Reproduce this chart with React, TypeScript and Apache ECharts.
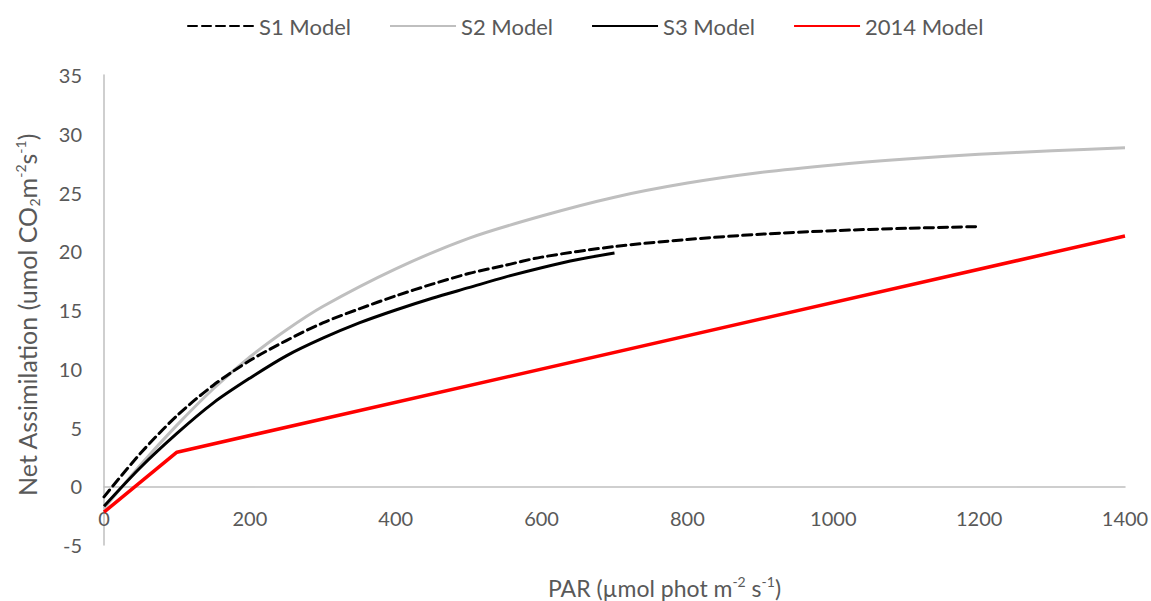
import React, { useEffect, useRef } from "react";
import * as echarts from "echarts";

const xTicks = [0, 200, 400, 600, 800, 1000, 1200, 1400];
const yTicks = [-5, 0, 5, 10, 15, 20, 25, 30, 35];

const seriesNames = ["S1 Model", "S2 Model", "S3 Model", "2014 Model"];

const s1X = [0, 50, 100, 150, 200, 250, 300, 350, 400, 450, 500, 550, 600, 700, 800, 900, 1000, 1100, 1200];
const s1Y = [-0.9, 2.8, 6.0, 8.6, 10.7, 12.4, 13.9, 15.1, 16.2, 17.2, 18.1, 18.8, 19.5, 20.4, 21.0, 21.45, 21.75, 21.95, 22.1];

const s2X = [0, 50, 100, 150, 200, 250, 300, 400, 500, 600, 700, 800, 900, 1000, 1100, 1200, 1300, 1400];
const s2Y = [-1.9, 1.8, 5.2, 8.3, 11.0, 13.3, 15.3, 18.5, 21.1, 23.0, 24.6, 25.8, 26.7, 27.35, 27.85, 28.25, 28.55, 28.8];

const s3X = [0, 50, 100, 150, 200, 250, 300, 350, 400, 450, 500, 550, 600, 650, 700];
const s3Y = [-1.7, 1.6, 4.5, 7.1, 9.2, 11.1, 12.6, 13.9, 15.0, 16.0, 16.9, 17.8, 18.6, 19.3, 19.85];

const m2014X = [0, 100, 1400];
const m2014Y = [-2.2, 2.9, 21.3];

const pairs = (xs: number[], ys: number[]) => xs.map((x, i) => [x, ys[i]]);

const FONT = "Lato, 'Open Sans', sans-serif";
const TXT = "#595959";
const AXIS = "#BFBFBF";

export default function App() {
  const ref = useRef<HTMLDivElement>(null);
  useEffect(() => {
    if (!ref.current) return;
    const chart = echarts.init(ref.current, undefined, { renderer: "svg" });
    const supStyle = { fontSize: 14, fontFamily: FONT, color: TXT, verticalAlign: "top", lineHeight: 20 };
    const subStyle = { fontSize: 14, fontFamily: FONT, color: TXT, verticalAlign: "bottom", lineHeight: 16 };
    chart.setOption({
      animation: false,
      backgroundColor: "#ffffff",
      textStyle: { fontFamily: FONT },
      legend: {
        top: 10,
        left: 182,
        itemWidth: 66,
        itemHeight: 14,
        itemGap: 38,
        data: seriesNames,
        itemStyle: { opacity: 0 },
        textStyle: { fontSize: 22, color: TXT, fontFamily: FONT },
      },
      grid: { left: 104, right: 26, top: 75, bottom: 56, containLabel: false, outerBoundsMode: "none" },
      xAxis: {
        type: "value",
        min: xTicks[0],
        max: xTicks[xTicks.length - 1],
        interval: 200,
        axisLine: { show: true, onZero: true, lineStyle: { color: AXIS, width: 1.5 } },
        axisTick: { show: false },
        splitLine: { show: false },
        axisLabel: { fontSize: 20, color: TXT, fontFamily: FONT, margin: -37, formatter: (v: number) => String(v) },
        name: "PAR (µmol phot m{sup|-2} s{sup|-1})",
        nameLocation: "middle",
        nameGap: 29,
        nameMoveOverlap: false,
        nameTextStyle: {
          fontSize: 23,
          lineHeight: 28,
          color: TXT,
          fontFamily: FONT,
          padding: [0, 0, 0, 100],
          rich: { sup: supStyle },
        },
      },
      yAxis: {
        type: "value",
        min: yTicks[0],
        max: yTicks[yTicks.length - 1],
        interval: 5,
        axisLine: { show: true, lineStyle: { color: AXIS, width: 1.5 } },
        axisTick: { show: false },
        splitLine: { show: false },
        axisLabel: { fontSize: 20, color: TXT, fontFamily: FONT, margin: 22 },
        name: "Net Assimilation (umol CO{sub|2}m{sup|-2}s{sup|-1})",
        nameLocation: "middle",
        nameGap: 63,
        nameTextStyle: {
          fontSize: 25,
          lineHeight: 28,
          color: TXT,
          fontFamily: FONT,
          padding: [0, 10, 0, 0],
          rich: { sup: supStyle, sub: subStyle },
        },
      },
      series: [
        {
          name: seriesNames[0],
          type: "line",
          data: pairs(s1X, s1Y),
          showSymbol: false,
          symbol: "none",
          smooth: 0.3,
          z: 4,
          lineStyle: { color: "#000000", width: 3, type: [9, 5], cap: "round" },
          itemStyle: { color: "#000000" },
        },
        {
          name: seriesNames[1],
          type: "line",
          data: pairs(s2X, s2Y),
          showSymbol: false,
          symbol: "none",
          smooth: 0.3,
          z: 2,
          lineStyle: { color: "#BFBFBF", width: 3 },
          itemStyle: { color: "#BFBFBF" },
        },
        {
          name: seriesNames[2],
          type: "line",
          data: pairs(s3X, s3Y),
          showSymbol: false,
          symbol: "none",
          smooth: 0.3,
          z: 3,
          lineStyle: { color: "#000000", width: 3 },
          itemStyle: { color: "#000000" },
        },
        {
          name: seriesNames[3],
          type: "line",
          data: pairs(m2014X, m2014Y),
          showSymbol: false,
          symbol: "none",
          smooth: false,
          z: 5,
          lineStyle: { color: "#FF0000", width: 3.5 },
          itemStyle: { color: "#FF0000" },
        },
      ],
    });
    return () => chart.dispose();
  }, []);
  return <div ref={ref} style={{ width: 1151, height: 601, position: "absolute", left: 0, top: 0 }} />;
}
